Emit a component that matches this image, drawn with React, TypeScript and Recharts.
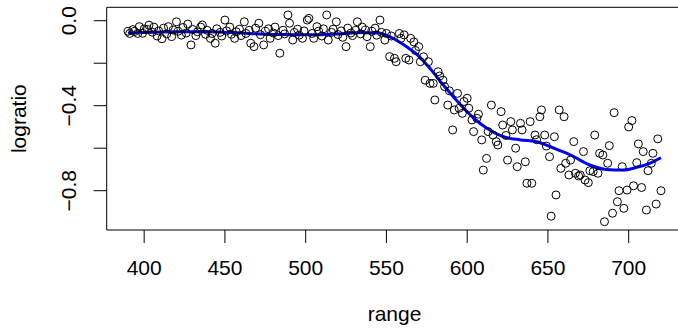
import React from 'react';
import {
  ComposedChart,
  Scatter,
  Line,
  XAxis,
  YAxis,
  ReferenceArea,
  Label,
} from 'recharts';

const range = [
  390, 391, 393, 394, 396, 397, 399, 400, 402, 403,
  405, 406, 408, 409, 411, 412, 414, 415, 417, 418,
  420, 421, 423, 424, 426, 427, 429, 430, 432, 433,
  435, 436, 438, 439, 441, 442, 444, 445, 447, 448,
  450, 451, 453, 454, 456, 457, 459, 460, 462, 463,
  465, 466, 468, 469, 471, 472, 474, 475, 477, 478,
  480, 481, 483, 484, 486, 487, 489, 490, 492, 493,
  495, 496, 498, 499, 501, 502, 504, 505, 507, 508,
  510, 511, 513, 514, 516, 517, 519, 520, 522, 523,
  525, 526, 528, 529, 531, 532, 534, 535, 537, 538,
  540, 541, 543, 544, 546, 547, 549, 550, 552, 553,
  555, 556, 558, 559, 561, 562, 564, 565, 567, 568,
  570, 571, 573, 574, 576, 577, 579, 580, 582, 583,
  585, 586, 588, 589, 591, 592, 594, 595, 597, 598,
  600, 601, 603, 604, 606, 607, 609, 610, 612, 613,
  615, 616, 618, 619, 621, 622, 624, 625, 627, 628,
  630, 631, 633, 634, 636, 637, 639, 640, 642, 643,
  645, 646, 648, 649, 651, 652, 654, 655, 657, 658,
  660, 661, 663, 664, 666, 667, 669, 670, 672, 673,
  675, 676, 678, 679, 681, 682, 684, 685, 687, 688,
  690, 691, 693, 694, 696, 697, 699, 700, 702, 703,
  705, 706, 708, 709, 711, 712, 714, 715, 717, 718,
  720,
];

const logratio = [
  -0.050, -0.060, -0.042, -0.051, -0.060, -0.028, -0.059, -0.039, -0.041, -0.021,
  -0.054, -0.030, -0.072, -0.048, -0.085, -0.035, -0.062, -0.028, -0.075, -0.044,
  -0.005, -0.050, -0.068, -0.032, -0.058, -0.016, -0.114, -0.041, -0.070, -0.052,
  -0.030, -0.020, -0.064, -0.045, -0.083, -0.060, -0.106, -0.038, -0.055, -0.072,
  0.003, -0.048, -0.030, -0.064, -0.083, -0.052, -0.040, -0.070, -0.005, -0.060,
  -0.045, -0.106, -0.122, -0.035, -0.012, -0.066, -0.114, -0.050, -0.038, -0.083,
  -0.058, -0.030, -0.070, -0.153, -0.045, -0.062, 0.027, -0.012, -0.091, -0.055,
  -0.040, -0.068, -0.083, -0.048, 0.003, 0.011, -0.060, -0.083, -0.028, -0.050,
  -0.072, -0.038, 0.027, -0.091, -0.055, -0.040, -0.005, -0.065, -0.048, -0.078,
  -0.122, -0.035, -0.058, -0.070, -0.045, -0.005, -0.062, -0.030, -0.044, -0.075,
  -0.122, -0.050, -0.035, -0.068, 0.003, -0.055, -0.091, -0.060, -0.169, -0.072,
  -0.177, -0.193, -0.060, -0.083, -0.067, -0.177, -0.185, -0.083, -0.100, -0.140,
  -0.122, -0.193, -0.170, -0.280, -0.193, -0.295, -0.295, -0.373, -0.240, -0.260,
  -0.280, -0.310, -0.397, -0.330, -0.514, -0.420, -0.342, -0.412, -0.436, -0.380,
  -0.365, -0.412, -0.467, -0.522, -0.459, -0.440, -0.561, -0.703, -0.648, -0.522,
  -0.397, -0.538, -0.569, -0.585, -0.428, -0.491, -0.540, -0.656, -0.475, -0.514,
  -0.600, -0.687, -0.483, -0.514, -0.664, -0.765, -0.475, -0.765, -0.538, -0.560,
  -0.452, -0.420, -0.538, -0.590, -0.640, -0.920, -0.546, -0.820, -0.420, -0.695,
  -0.452, -0.671, -0.726, -0.656, -0.569, -0.718, -0.731, -0.726, -0.616, -0.750,
  -0.762, -0.706, -0.710, -0.538, -0.718, -0.624, -0.632, -0.946, -0.671, -0.588,
  -0.906, -0.433, -0.852, -0.800, -0.687, -0.883, -0.797, -0.500, -0.470, -0.777,
  -0.668, -0.580, -0.785, -0.616, -0.891, -0.706, -0.671, -0.624, -0.863, -0.556,
  -0.800,
];

// smooth fit
const fitRange = [
  390, 400, 420, 440, 460, 480, 500, 520, 535, 545, 552, 558, 563, 568, 576,
  586, 597, 605, 612, 622, 633, 643, 653, 664, 676, 686, 696, 705, 713, 720,
];
const fitValue = [
  -0.058, -0.055, -0.052, -0.052, -0.058, -0.065, -0.066, -0.062, -0.055, -0.058,
  -0.075, -0.100, -0.125, -0.153, -0.216, -0.310, -0.405, -0.465, -0.505, -0.545,
  -0.561, -0.570, -0.598, -0.632, -0.679, -0.700, -0.703, -0.690, -0.671, -0.645,
];

const xTicks = [400, 450, 500, 550, 600, 650, 700];
const yTicks = [0, -0.2, -0.4, -0.6, -0.8];
const yLabelled = [0, -0.4, -0.8];

const FONT = '"Liberation Sans", Arial, Helvetica, sans-serif';
const FS = 21;

const points = range.map((r, i) => ({ range: r, logratio: logratio[i] }));
const fit = fitRange.map((r, i) => ({ range: r, fit: fitValue[i] }));

const Ring = (props: any) => (
  <circle cx={props.cx} cy={props.cy} r={4} fill="none" stroke="#000" strokeWidth={1} />
);

const YTick = ({ x, y, payload }: any) => {
  if (!yLabelled.includes(payload.value)) return <g />;
  const label =
    payload.value === 0 ? '0.0' : '\u2212' + Math.abs(payload.value).toFixed(1);
  return (
    <text
      x={x}
      y={y}
      transform={`rotate(-90 ${x} ${y})`}
      textAnchor="middle"
      fontSize={FS}
      fontFamily={FONT}
      fill="#000"
    >
      {label}
    </text>
  );
};

const XTitle = ({ viewBox }: any) => (
  <text
    x={viewBox.x + viewBox.width / 2}
    y={321}
    textAnchor="middle"
    fontSize={FS}
    fontFamily={FONT}
    fill="#000"
  >
    range
  </text>
);

const YTitle = ({ viewBox }: any) => {
  const cy = viewBox.y + viewBox.height / 2;
  return (
    <text
      x={26}
      y={cy}
      transform={`rotate(-90 26 ${cy})`}
      textAnchor="middle"
      fontSize={FS}
      fontFamily={FONT}
      fill="#000"
    >
      logratio
    </text>
  );
};

export default function App() {
  return (
    <div
      style={{
        position: 'absolute',
        left: 0,
        top: 0,
        width: 678,
        height: 332,
        overflow: 'hidden',
        background: '#fff',
      }}
    >
      <ComposedChart
        width={690}
        height={332}
        margin={{ top: 7.3, right: 7.7, bottom: 0, left: 0 }}
      >
        <XAxis
          dataKey="range"
          type="number"
          domain={[376.8, 733.2]}
          ticks={xTicks}
          interval={0}
          allowDataOverflow
          axisLine={false}
          tickLine={{ stroke: '#000' }}
          tickSize={13}
          tickMargin={17.5}
          height={102}
          tick={{ fill: '#000', fontSize: FS, fontFamily: FONT }}
        >
          <Label content={<XTitle />} />
        </XAxis>
        <YAxis
          type="number"
          domain={[-0.985, 0.0631]}
          ticks={yTicks}
          interval={0}
          allowDataOverflow
          axisLine={false}
          tickLine={{ stroke: '#000' }}
          tickSize={13}
          tickMargin={18}
          width={106.7}
          tick={<YTick />}
        >
          <Label content={<YTitle />} />
        </YAxis>
        <ReferenceArea
          x1={376.8}
          x2={733.2}
          y1={-0.985}
          y2={0.0631}
          fill="none"
          stroke="#000"
          strokeWidth={1}
        />
        <Scatter
          data={points}
          dataKey="logratio"
          shape={<Ring />}
          isAnimationActive={false}
        />
        <Line
          data={fit}
          dataKey="fit"
          type="monotone"
          stroke="#0000ff"
          strokeWidth={3}
          dot={false}
          activeDot={false}
          isAnimationActive={false}
        />
      </ComposedChart>
    </div>
  );
}
